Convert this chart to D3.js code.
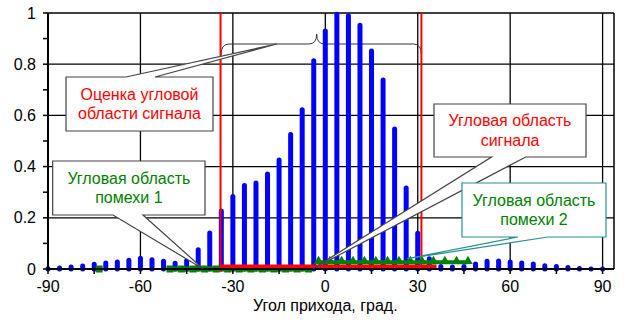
<!DOCTYPE html>
<html>
<head>
<meta charset="utf-8">
<script src="https://cdn.jsdelivr.net/npm/d3@7"></script>
<style>
  html, body { margin: 0; padding: 0; background: #fff; }
  svg { display: block; font-family: "Liberation Sans", Arial, sans-serif; }
</style>
</head>
<body>
<svg id="chart" width="624" height="320"></svg>
<script>
// Angular power spectrum, step 3.75 degrees from -90 to 90
const angles = [-90, -86.25, -82.5, -78.75, -75, -71.25, -67.5, -63.75, -60, -56.25,
  -52.5, -48.75, -45, -41.25, -37.5, -33.75, -30, -26.25, -22.5, -18.75,
  -15, -11.25, -7.5, -3.75, 0, 3.75, 7.5, 11.25, 15, 18.75,
  22.5, 26.25, 30, 33.75, 37.5, 41.25, 45, 48.75, 52.5, 56.25,
  60, 63.75, 67.5, 71.25, 75, 78.75, 82.5, 86.25, 90];
const power = [0.001, 0.004, 0.008, 0.012, 0.019, 0.023, 0.027, 0.034, 0.042, 0.036,
  0.030, 0.022, 0.032, 0.075, 0.141, 0.227, 0.283, 0.326, 0.336, 0.371,
  0.426, 0.525, 0.622, 0.813, 0.930, 0.995, 0.989, 0.952, 0.852, 0.738,
  0.547, 0.316, 0.140, 0.040, 0.010, 0.008, 0.010, 0.020, 0.030, 0.031,
  0.027, 0.023, 0.020, 0.013, 0.010, 0.006, 0.002, 0.000, 0.000];

// Interference region 1 (squares)
const jam1Angles = [-73.4, -50.4, -46.65, -42.9, -39.15, -35.4, -31.65, -27.9, -24.15,
  -20.4, -16.65, -12.9, -9.15, -5.4];
const jam1Values = [0, 0, 0, 0, 0, 0, 0, 0, 0, 0, 0, 0, 0, 0];

// Interference region 2 (triangles)
const jam2Angles = [-2.2, 1.5, 5.3, 9.0, 12.7, 16.4, 20.2, 23.9, 27.6, 31.4, 35.1, 38.8, 42.6, 46.3];
const jam2Values = [0.026, 0.026, 0.026, 0.026, 0.026, 0.026, 0.026, 0.026, 0.026, 0.026, 0.026, 0.026, 0.026, 0.026];

// Estimated signal sector: boundaries and floor line
const estBounds = [-34.0, 31.2];
const estFloorAngles = [-34.0, 36.1];
const estFloorValues = [0.01, 0.01];

// Axis ticks
const xTicks = [-90, -60, -30, 0, 30, 60, 90];
const xMinorTicks = [-90, -75, -60, -45, -30, -15, 0, 15, 30, 45, 60, 75, 90];
const yTicks = [0, 0.2, 0.4, 0.6, 0.8, 1];
const yMinorTicks = [0, 0.1, 0.2, 0.3, 0.4, 0.5, 0.6, 0.7, 0.8, 0.9, 1];
const yTickLabels = ["0", "0.2", "0.4", "0.6", "0.8", "1"];

const xTitle = "Угол прихода, град.";

const svg = d3.select("#chart");
const x = d3.scaleLinear().domain([-90, 93.7]).range([48, 614]);
const y = d3.scaleLinear().domain([0, 1]).range([269, 13]);

const BLUE = "#0000ff", RED = "#ff0000", GREEN = "#008000", TEAL = "#2a9090";

// grid
const grid = svg.append("g");
grid.selectAll("line.gy").data(yTicks).join("line")
  .attr("x1", x.range()[0]).attr("x2", x.range()[1])
  .attr("y1", d => y(d)).attr("y2", d => y(d))
  .attr("stroke", "#000").attr("stroke-width", 1.3);
grid.selectAll("line.gx").data(xTicks).join("line")
  .attr("x1", d => x(d)).attr("x2", d => x(d))
  .attr("y1", y(0)).attr("y2", y(1))
  .attr("stroke", "#000").attr("stroke-width", 1.3);
// right border
grid.append("line").attr("x1", x.range()[1]).attr("x2", x.range()[1])
  .attr("y1", y(0)).attr("y2", y(1)).attr("stroke", "#000").attr("stroke-width", 1.5);

// brace over the estimated sector
const xl = x(estBounds[0]) + 0.5, xr = x(estBounds[1]), xc = x(-2.8);
const by = 44, bEnd = 55, bTop = 34;
svg.append("path")
  .attr("d", `M${xl},${bEnd} Q${xl},${by} ${xl + 8},${by} L${xc - 8},${by} Q${xc},${by} ${xc},${bTop} Q${xc},${by} ${xc + 8},${by} L${xr - 8},${by} Q${xr},${by} ${xr},${bEnd}`)
  .attr("fill", "none").attr("stroke", "#333").attr("stroke-width", 1);

// bars
svg.append("g").selectAll("line").data(angles).join("line")
  .attr("x1", d => x(d)).attr("x2", d => x(d))
  .attr("y1", y(0)).attr("y2", (d, i) => y(power[i]))
  .attr("stroke", BLUE).attr("stroke-width", 5).attr("stroke-linecap", "round");

// interference 1: squares
const jam1 = jam1Angles.map((a, i) => ({ a, v: jam1Values[i] }));
const runs1 = [];
jam1.forEach((p, i) => {
  if (i === 0 || p.a - jam1[i - 1].a > 10) runs1.push([p]); else runs1[runs1.length - 1].push(p);
});
const line = d3.line().x(d => x(d.a)).y(d => y(d.v));
runs1.forEach(r => {
  if (r.length > 1) svg.append("path").attr("d", line(r)).attr("fill", "none")
    .attr("stroke", GREEN).attr("stroke-width", 5);
});
svg.append("g").selectAll("rect").data(jam1).join("rect")
  .attr("x", d => x(d.a) - 3.5).attr("y", d => y(d.v) - 3.5)
  .attr("width", 7).attr("height", 7).attr("fill", GREEN);

// estimated sector (red)
const est = estFloorAngles.map((a, i) => ({ a, v: estFloorValues[i] }));
svg.append("path").attr("d", line(est)).attr("fill", "none")
  .attr("stroke", RED).attr("stroke-width", 4);
svg.append("g").selectAll("line").data(estBounds).join("line")
  .attr("x1", d => x(d)).attr("x2", d => x(d))
  .attr("y1", y(1)).attr("y2", (d, i) => i === 0 ? y(-0.01) : y(0))
  .attr("stroke", RED).attr("stroke-width", 2);

// interference 2: triangles
const jam2 = jam2Angles.map((a, i) => ({ a, v: jam2Values[i] }));
svg.append("path").attr("d", line(jam2)).attr("fill", "none")
  .attr("stroke", GREEN).attr("stroke-width", 4);
svg.append("g").selectAll("path").data(jam2).join("path")
  .attr("d", d3.symbol(d3.symbolTriangle, 40))
  .attr("transform", d => `translate(${x(d.a)},${y(d.v) - 1})`)
  .attr("fill", GREEN);

// axes
const axes = svg.append("g").attr("stroke", "#000");
axes.append("line").attr("x1", x.range()[0]).attr("x2", x.range()[1])
  .attr("y1", y(0)).attr("y2", y(0)).attr("stroke-width", 2);
axes.append("line").attr("x1", x.range()[0]).attr("x2", x.range()[0])
  .attr("y1", y(0) + 1).attr("y2", y(1)).attr("stroke-width", 2);
axes.selectAll("line.tx").data(xMinorTicks).join("line")
  .attr("x1", d => x(d)).attr("x2", d => x(d))
  .attr("y1", y(0)).attr("y2", y(0) + 5).attr("stroke-width", 1.5);
axes.selectAll("line.ty").data(yMinorTicks).join("line")
  .attr("x1", x.range()[0] - 5).attr("x2", x.range()[0])
  .attr("y1", d => y(d)).attr("y2", d => y(d)).attr("stroke-width", 1.5);

// tick labels
const labels = svg.append("g").attr("font-size", 16).attr("fill", "#000");
labels.selectAll("text.xl").data(xTicks).join("text")
  .attr("x", d => x(d)).attr("y", 292).attr("text-anchor", "middle")
  .text(d => d);
labels.selectAll("text.yl").data(yTicks).join("text")
  .attr("x", 36).attr("y", d => y(d) + 5.5).attr("text-anchor", "end")
  .text((d, i) => yTickLabels[i]);
labels.append("text").attr("x", x(0)).attr("y", 311).attr("text-anchor", "middle").text(xTitle);

// callouts: rectangle with a wedge pointer on its top or bottom edge
function callout(box, side, base, tip) {
  const [x0, y0, x1, y1] = box;
  if (side === "top") {
    return `M${x0},${y0} L${base[0]},${y0} L${tip[0]},${tip[1]} L${base[1]},${y0} L${x1},${y0} L${x1},${y1} L${x0},${y1} Z`;
  }
  return `M${x0},${y0} L${x1},${y0} L${x1},${y1} L${base[1]},${y1} L${tip[0]},${tip[1]} L${base[0]},${y1} L${x0},${y1} Z`;
}
const callouts = [
  { box: [66, 77, 213, 131], side: "top", base: [126, 155], tip: [276.7, by],
    stroke: "#444", color: RED, lines: ["Оценка угловой", "области сигнала"], ty: [100, 118.5] },
  { box: [434, 104, 586, 157], side: "bottom", base: [491.5, 525.7], tip: [x(-3.9), y(0.002)],
    stroke: "#444", color: RED, lines: ["Угловая область", "сигнала"], ty: [126, 146] },
  { box: [52.7, 161, 205, 215], side: "bottom", base: [113, 143], tip: [x(-39.6), y(0)],
    stroke: "#444", color: GREEN, lines: ["Угловая область", "помехи 1"], ty: [184, 203] },
  { box: [462, 183, 606, 237], side: "bottom", base: [518, 548], tip: [x(26.5), y(0.04)],
    stroke: TEAL, color: GREEN, lines: ["Угловая область", "помехи 2"], ty: [206, 225] }
];
const cg = svg.append("g");
callouts.forEach(c => {
  cg.append("path").attr("d", callout(c.box, c.side, c.base, c.tip))
    .attr("fill", "#fff").attr("stroke", c.stroke).attr("stroke-width", 1.2)
    .attr("stroke-linejoin", "miter");
  const cx = (c.box[0] + c.box[2]) / 2;
  c.lines.forEach((t, i) => {
    cg.append("text").attr("x", cx).attr("y", c.ty[i]).attr("text-anchor", "middle")
      .attr("font-size", 16).attr("fill", c.color).text(t);
  });
});
</script>
</body>
</html>
